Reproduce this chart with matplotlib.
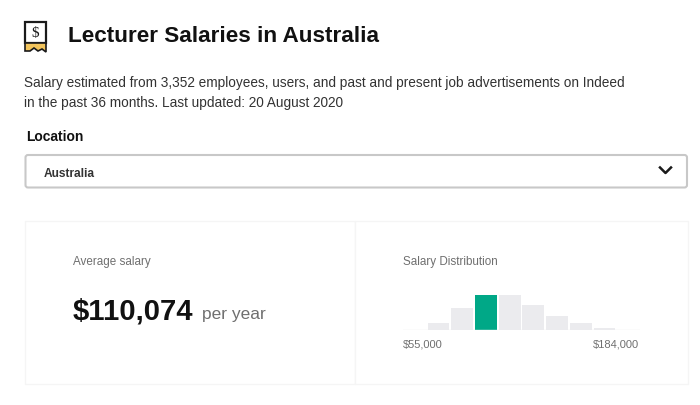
import matplotlib
matplotlib.use("Agg")
import matplotlib.pyplot as plt
from matplotlib.patches import Rectangle, Polygon, FancyBboxPatch

plt.rcParams['font.family'] = ['Liberation Sans', 'DejaVu Sans']

# histogram values, relative share per salary band
bins = list(range(10))
shares = [0.5, 7.5, 22, 35, 35, 25.5, 14.5, 7, 2.5, 0.5]
highlight = 3
low_label = "$55,000"
high_label = "$184,000"
average = "$110,074"

W, H = 700, 406
fig = plt.figure(figsize=(W / 100, H / 100), dpi=100)

# page layer in pixel coords, y going down
page = fig.add_axes([0, 0, 1, 1])
page.set_xlim(0, W)
page.set_ylim(H, 0)
page.axis('off')

# receipt icon
page.add_patch(Rectangle((25, 23), 21, 21, fc='white', ec='#1a1a1a', lw=1.6))
page.add_patch(Polygon([(25, 44), (46, 44), (46, 53), (42, 50), (38, 52), (34, 49), (30, 52), (25, 52)],
                       fc='#f2c45c', ec='#1a1a1a', lw=1.2))
page.text(35.5, 34, "$", fontsize=11, ha='center', va='center', family='Liberation Serif', color='#1a1a1a')

page.text(67.5, 36, "Lecturer Salaries in Australia", fontsize=16.2, fontweight='bold', va='center', color='#111111')
page.text(24, 83, "Salary estimated from 3,352 employees, users, and past and present job advertisements on Indeed",
          fontsize=9.85, va='center', color='#333333')
page.text(24, 102.5, "in the past 36 months. Last updated: 20 August 2020", fontsize=9.85, va='center', color='#333333')
page.text(26, 137.5, "Location", fontsize=10, fontweight='bold', va='center', color='#111111')

# dropdown
page.add_patch(FancyBboxPatch((25.5, 156), 661.5, 32.5, boxstyle="round,pad=0,rounding_size=2.5",
                              fc='white', ec='#c8c8c8', lw=1.5))
page.text(43.5, 174, "Australia", fontsize=8.6, fontweight='bold', va='center', color='#333333')
page.plot([660, 665.5, 671], [168.5, 174, 168.5], color='#1a1a1a', lw=1.8)

# cards
page.add_patch(Rectangle((25, 222), 330, 163, fc='white', ec='#f5f5f5', lw=1))
page.add_patch(Rectangle((355, 222), 333, 163, fc='white', ec='#f5f5f5', lw=1))

page.text(73, 262.5, "Average salary", fontsize=8.4, va='center', color='#6f6f6f')
page.text(73, 312, average, fontsize=21.1, fontweight='bold', va='center', color='#111111')
page.text(202, 315, "per year", fontsize=12.5, va='center', color='#6f6f6f')

page.text(403, 262.5, "Salary Distribution", fontsize=8.4, va='center', color='#6f6f6f')
page.text(403, 345, low_label, fontsize=8, va='center', color='#6f6f6f')
page.text(639, 345, high_label, fontsize=8, ha='right', va='center', color='#6f6f6f')

# histogram
ax = fig.add_axes([403 / W, 1 - 331 / H, 237 / W, 36 / H])
colors = ['#00a887' if i == highlight else '#ebebee' for i in bins]
ax.bar(bins, shares, width=0.92, color=colors)
ax.axhline(0, color='#ebebee', lw=1)
ax.set_xlim(-0.5, 9.5)
ax.set_ylim(0, 36)
ax.axis('off')

fig.savefig("out.png", dpi=100)
